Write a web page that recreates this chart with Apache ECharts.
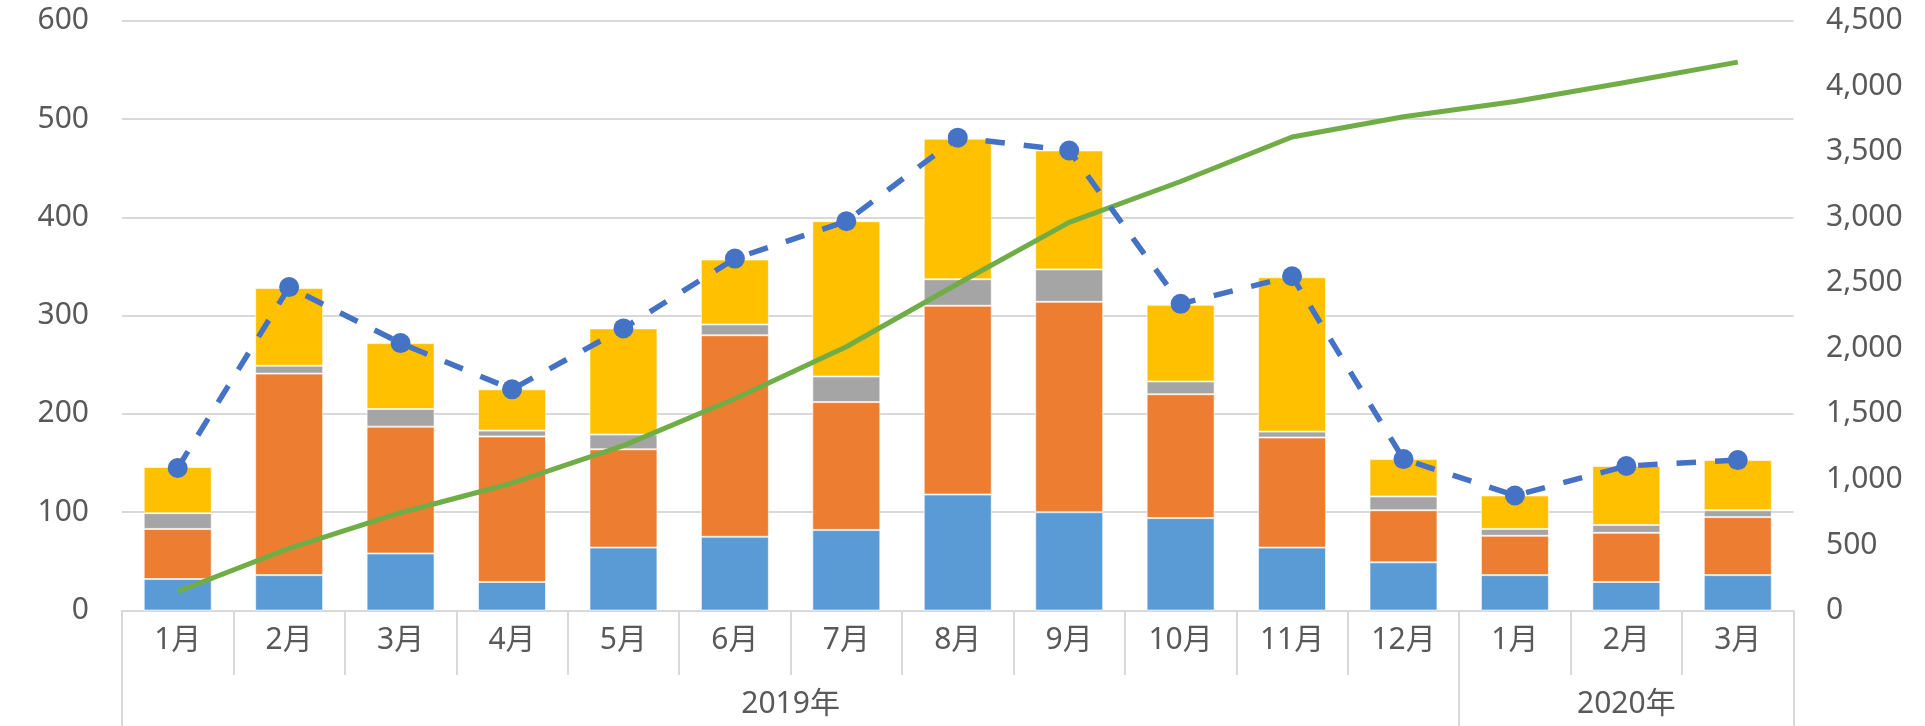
<!DOCTYPE html>
<html>
<head>
<meta charset="utf-8">
<title>月別推移</title>
<script src="https://cdn.jsdelivr.net/npm/echarts@6/dist/echarts.min.js"></script>
<style>
  html, body { margin: 0; padding: 0; background: #fff; }
  #chart { width: 1925px; height: 726px; }
</style>
</head>
<body>
<div id="chart"></div>
<script>
// 月ラベル（2019年1月〜2020年3月）
var months = ['1月', '2月', '3月', '4月', '5月', '6月', '7月', '8月', '9月', '10月', '11月', '12月', '1月', '2月', '3月']
// 年ラベルとその月数
var years = ['2019年', '2020年']
var yearSpans = [12, 3]

// 積み上げ棒（下から）
var blueData = [32, 36, 58, 29, 64, 75, 82, 118, 100, 94, 64, 49, 36, 29, 36]
var orangeData = [51, 205, 129, 148, 100, 205, 130, 192, 214, 126, 112, 53, 40, 50, 59]
var grayData = [16, 8, 18, 6, 15, 11, 26, 27, 33, 13, 6, 14, 7, 8, 7]
var yellowData = [47, 79, 67, 42, 108, 66, 158, 143, 121, 78, 157, 38, 34, 60, 51]
// 合計（破線・左軸）
var totalData = [145, 329, 272, 225, 287, 358, 396, 481, 468, 312, 340, 154, 117, 147, 153]
// 累計（実線・右軸）
var cumulativeData = [145, 474, 746, 971, 1258, 1616, 2012, 2493, 2961, 3273, 3613, 3767, 3884, 4031, 4184]

var FONT = '"Noto Sans", "Noto Sans CJK JP", sans-serif'
var TEXT_COLOR = '#595959'
var LINE_COLOR = '#d9d9d9'

// 年の区切り位置とラベル位置
var yearBounds = [0]
var yearCenters = []
yearSpans.forEach(function (n, i) {
  var start = yearBounds[i]
  yearBounds.push(start + n)
  yearCenters.push(start + n / 2)
})

var chart = echarts.init(document.getElementById('chart'))

function barSeries(name, color, data) {
  return {
    name: name,
    type: 'bar',
    stack: 'total',
    barCategoryGap: '39%',
    itemStyle: {
      color: color,
      borderColor: 'rgba(255,255,255,0.6)',
      borderWidth: 1
    },
    data: data
  }
}

chart.setOption({
  animation: false,
  textStyle: { fontFamily: FONT },
  grid: {
    left: 122,
    right: 131.5,
    top: 20.7,
    bottom: 115.5,
    containLabel: false
  },
  xAxis: [
    {
      type: 'category',
      data: months,
      boundaryGap: true,
      axisLine: { lineStyle: { color: LINE_COLOR, width: 2 } },
      axisTick: {
        show: true,
        interval: 0,
        length: 64.5,
        lineStyle: { color: LINE_COLOR, width: 2 }
      },
      axisLabel: {
        interval: 0,
        margin: 15,
        fontSize: 30,
        lineHeight: 30,
        color: TEXT_COLOR,
        fontFamily: FONT
      },
      splitLine: { show: false }
    },
    {
      // 年の階層ラベル
      type: 'value',
      position: 'bottom',
      min: 0,
      max: yearBounds[yearBounds.length - 1],
      axisLine: { show: false },
      axisTick: {
        show: true,
        customValues: yearBounds,
        length: 116,
        lineStyle: { color: LINE_COLOR, width: 2 }
      },
      axisLabel: {
        customValues: yearCenters,
        margin: 78.5,
        fontSize: 30,
        lineHeight: 30,
        color: TEXT_COLOR,
        fontFamily: FONT,
        formatter: function (v) {
          var i = yearCenters.indexOf(v)
          return i >= 0 ? years[i] : ''
        }
      },
      splitLine: { show: false }
    }
  ],
  yAxis: [
    {
      type: 'value',
      min: 0,
      max: 600,
      interval: 100,
      axisLine: { show: false },
      axisTick: { show: false },
      axisLabel: {
        margin: 33,
        fontSize: 30,
        color: TEXT_COLOR,
        fontFamily: FONT
      },
      splitLine: { lineStyle: { color: LINE_COLOR, width: 2 } }
    },
    {
      type: 'value',
      min: 0,
      max: 4500,
      interval: 500,
      position: 'right',
      axisLine: { show: false },
      axisTick: { show: false },
      axisLabel: {
        margin: 32.5,
        fontSize: 30,
        color: TEXT_COLOR,
        fontFamily: FONT,
        formatter: function (v) {
          return echarts.format.addCommas(v)
        }
      },
      splitLine: { show: false }
    }
  ],
  series: [
    barSeries('区分A', '#5b9bd5', blueData),
    barSeries('区分B', '#ed7d31', orangeData),
    barSeries('区分C', '#a5a5a5', grayData),
    barSeries('区分D', '#ffc000', yellowData),
    {
      name: '累計',
      type: 'line',
      yAxisIndex: 1,
      symbol: 'none',
      lineStyle: { color: '#70ad47', width: 5, join: 'round' },
      data: cumulativeData
    },
    {
      name: '合計',
      type: 'line',
      symbol: 'circle',
      symbolSize: 20,
      itemStyle: { color: '#4472c4' },
      lineStyle: {
        color: '#4472c4',
        width: 5.5,
        type: [19.5, 19]
      },
      data: totalData
    }
  ]
})
</script>
</body>
</html>
